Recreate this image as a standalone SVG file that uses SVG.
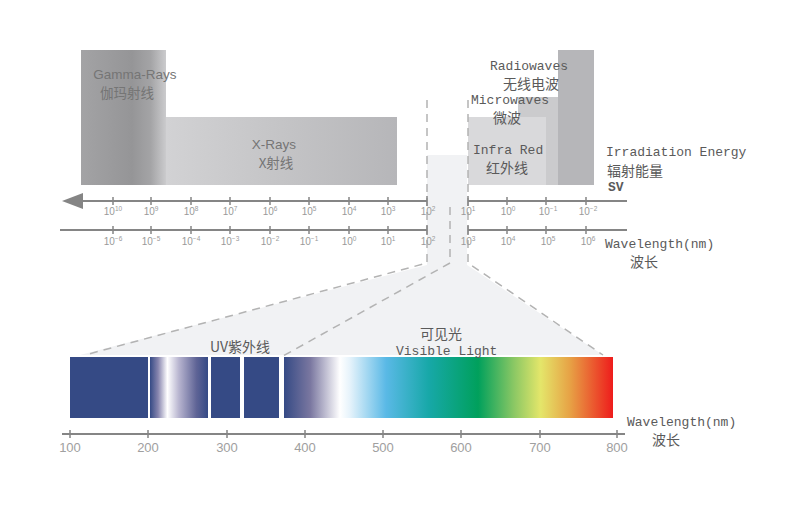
<svg xmlns="http://www.w3.org/2000/svg" width="800" height="507" viewBox="0 0 800 507">
<defs>
<linearGradient id="gGamma" x1="0" y1="0" x2="1" y2="0">
<stop offset="0" stop-color="#a3a3a5"/><stop offset="0.6" stop-color="#959597"/><stop offset="0.82" stop-color="#a4a4a6"/><stop offset="1" stop-color="#cbcbcd"/>
</linearGradient>
<linearGradient id="gX" x1="0" y1="0" x2="1" y2="0">
<stop offset="0" stop-color="#d2d2d4"/><stop offset="0.5" stop-color="#c4c4c6"/><stop offset="1" stop-color="#b6b6b9"/>
</linearGradient>
<linearGradient id="gUV" x1="0" y1="0" x2="1" y2="0">
<stop offset="0" stop-color="#354a85"/><stop offset="0.14" stop-color="#8785ae"/><stop offset="0.3" stop-color="#ffffff"/><stop offset="0.5" stop-color="#b7b4cf"/><stop offset="0.8" stop-color="#5f6496"/><stop offset="1" stop-color="#354a85"/>
</linearGradient>
<linearGradient id="gVis" x1="0" y1="0" x2="1" y2="0">
<stop offset="0" stop-color="#354a85"/><stop offset="0.08" stop-color="#7a77a0"/><stop offset="0.17" stop-color="#ffffff"/><stop offset="0.2" stop-color="#e6f3fb"/><stop offset="0.31" stop-color="#5ab9e6"/><stop offset="0.44" stop-color="#17a8a8"/><stop offset="0.59" stop-color="#00a05c"/><stop offset="0.7" stop-color="#8cc864"/><stop offset="0.78" stop-color="#e4e66a"/><stop offset="0.87" stop-color="#e7a145"/><stop offset="1" stop-color="#ee1c1c"/>
</linearGradient>
</defs>
<style>
.mono{font-family:"Liberation Mono","Noto Sans CJK SC",monospace;font-size:13px;fill:#5a5a5a}
.cjk{font-family:"Noto Sans CJK SC",sans-serif;font-size:14px;fill:#5a5a5a}
.gl{font-family:"Liberation Sans","Noto Sans CJK SC",sans-serif;font-size:13.5px;fill:#757575}
.gc{font-family:"Noto Sans CJK SC",sans-serif;font-size:13.5px;fill:#757575}
.exp{font-family:"Liberation Sans",sans-serif;font-size:10px;fill:#9a9a9a;text-anchor:middle}
.sup{font-size:6.5px}
.num{font-family:"Liberation Sans",sans-serif;font-size:13px;fill:#a0a0a0;text-anchor:middle}
.axis{stroke:#858585;stroke-width:2;fill:none}
.tick{stroke:#858585;stroke-width:1.5}
.dash{stroke:#b3b3b3;stroke-width:1.5;stroke-dasharray:8 6;fill:none}
.navy{fill:#354a85}
</style>

<g id="funnel">
<polygon points="430,155 467,155 467,265 603,355 80,355 427,265 427,155" fill="#f1f2f4"/>
</g>

<g id="gamma-rays">
<rect x="81" y="50" width="85" height="135" fill="url(#gGamma)"/>
<text class="gl" x="135" y="79" text-anchor="middle">Gamma-Rays</text>
<text class="gc" x="127" y="98" text-anchor="middle">伽玛射线</text>
</g>
<g id="x-rays">
<rect x="166" y="117" width="231" height="68" fill="url(#gX)"/>
<text class="gl" x="274" y="149" text-anchor="middle">X-Rays</text>
<text class="gc" x="276" y="168" text-anchor="middle">X射线</text>
</g>
<g id="radiowaves">
<rect x="558" y="50" width="36" height="135" fill="#b6b6b9"/>
</g>
<g id="microwaves">
<rect x="518" y="97" width="40" height="88" fill="#cbcbcd"/>
</g>
<g id="infra-red">
<rect x="468" y="117" width="78" height="68" fill="#d9d9db"/>
</g>
<g id="band-labels">
<text class="mono" x="490" y="70">Radiowaves</text>
<text class="cjk" x="531" y="89" text-anchor="middle">无线电波</text>
<text class="mono" x="471" y="104">Microwaves</text>
<text class="cjk" x="507" y="123" text-anchor="middle">微波</text>
<text class="mono" x="473" y="154">Infra Red</text>
<text class="cjk" x="507" y="173" text-anchor="middle">红外线</text>
</g>
<g id="irradiation-label">
<text class="mono" x="606" y="156">Irradiation Energy</text>
<text class="cjk" x="607" y="176">辐射能量</text>
<text class="mono" x="608" y="191" font-weight="bold">SV</text>
</g>

<g id="connectors">
<path class="dash" d="M427,100 V263 L85,355"/>
<path class="dash" d="M468,100 V263 L603,355"/>
<path class="dash" d="M450,207 V263 L283,356"/>
</g>

<g id="energy-axis">
<polygon points="62,201 83,193 83,209" fill="#858585"/>
<path class="axis" d="M80,201 H427 M468,201 H627"/>
<path class="tick" d="M113,197v8M151,197v8M191,197v8M230,197v8M270,197v8M309,197v8M349,197v8M388,197v8M427,196v10M468,196v10M507,197v8M546,197v8M586,197v8"/>
<text class="exp" x="113" y="215">10<tspan class="sup" dy="-4">10</tspan></text>
<text class="exp" x="151" y="215">10<tspan class="sup" dy="-4">9</tspan></text>
<text class="exp" x="191" y="215">10<tspan class="sup" dy="-4">8</tspan></text>
<text class="exp" x="230" y="215">10<tspan class="sup" dy="-4">7</tspan></text>
<text class="exp" x="270" y="215">10<tspan class="sup" dy="-4">6</tspan></text>
<text class="exp" x="309" y="215">10<tspan class="sup" dy="-4">5</tspan></text>
<text class="exp" x="349" y="215">10<tspan class="sup" dy="-4">4</tspan></text>
<text class="exp" x="388" y="215">10<tspan class="sup" dy="-4">3</tspan></text>
<text class="exp" x="428" y="215">10<tspan class="sup" dy="-4">2</tspan></text>
<text class="exp" x="468" y="215">10<tspan class="sup" dy="-4">1</tspan></text>
<text class="exp" x="508" y="215">10<tspan class="sup" dy="-4">0</tspan></text>
<text class="exp" x="548" y="215">10<tspan class="sup" dy="-4">−1</tspan></text>
<text class="exp" x="588" y="215">10<tspan class="sup" dy="-4">−2</tspan></text>
</g>

<g id="wavelength-axis">
<path class="axis" d="M60,230 H427 M468,230 H627"/>
<path class="tick" d="M113,226v8M151,226v8M191,226v8M230,226v8M270,226v8M309,226v8M349,226v8M388,226v8M427,225v10M468,225v10M507,226v8M546,226v8M586,226v8"/>
<text class="exp" x="113" y="245">10<tspan class="sup" dy="-4">−6</tspan></text>
<text class="exp" x="151" y="245">10<tspan class="sup" dy="-4">−5</tspan></text>
<text class="exp" x="191" y="245">10<tspan class="sup" dy="-4">−4</tspan></text>
<text class="exp" x="230" y="245">10<tspan class="sup" dy="-4">−3</tspan></text>
<text class="exp" x="270" y="245">10<tspan class="sup" dy="-4">−2</tspan></text>
<text class="exp" x="309" y="245">10<tspan class="sup" dy="-4">−1</tspan></text>
<text class="exp" x="349" y="245">10<tspan class="sup" dy="-4">0</tspan></text>
<text class="exp" x="388" y="245">10<tspan class="sup" dy="-4">1</tspan></text>
<text class="exp" x="428" y="245">10<tspan class="sup" dy="-4">2</tspan></text>
<text class="exp" x="468" y="245">10<tspan class="sup" dy="-4">3</tspan></text>
<text class="exp" x="508" y="245">10<tspan class="sup" dy="-4">4</tspan></text>
<text class="exp" x="548" y="245">10<tspan class="sup" dy="-4">5</tspan></text>
<text class="exp" x="588" y="245">10<tspan class="sup" dy="-4">6</tspan></text>
<text class="mono" x="605" y="248">Wavelength(nm)</text>
<text class="cjk" x="630" y="267">波长</text>
</g>

<g id="spectrum">
<rect class="navy" x="70" y="357" width="78" height="61"/>
<rect x="150" y="357" width="58" height="61" fill="url(#gUV)"/>
<rect class="navy" x="211" y="357" width="29" height="61"/>
<rect class="navy" x="244" y="357" width="35" height="61"/>
<rect x="284" y="357" width="329" height="61" fill="url(#gVis)"/>
<text class="cjk" x="240" y="352" text-anchor="middle" font-size="15">UV紫外线</text>
<text class="cjk" x="441" y="339" text-anchor="middle" font-size="15">可见光</text>
<text class="mono" x="396" y="355">Visible Light</text>
</g>

<g id="nm-axis">
<path class="axis" d="M62,434 H625"/>
<path class="tick" d="M70,430v8M148,430v8M227,430v8M305,430v8M383,430v8M461,430v8M540,430v8M617,430v8"/>
<text class="num" x="70" y="452">100</text>
<text class="num" x="148" y="452">200</text>
<text class="num" x="227" y="452">300</text>
<text class="num" x="305" y="452">400</text>
<text class="num" x="383" y="452">500</text>
<text class="num" x="461" y="452">600</text>
<text class="num" x="540" y="452">700</text>
<text class="num" x="617" y="452">800</text>
<text class="mono" x="627" y="426">Wavelength(nm)</text>
<text class="cjk" x="652" y="445">波长</text>
</g>
</svg>
